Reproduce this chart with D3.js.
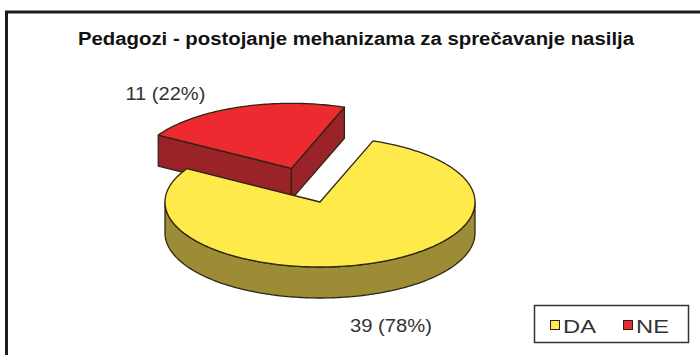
<!DOCTYPE html>
<html>
<head>
<meta charset="utf-8">
<script src="https://cdn.jsdelivr.net/npm/d3@7/dist/d3.min.js"></script>
<style>
  html, body { margin: 0; padding: 0; background: #fff; }
  svg { display: block; font-family: Arial, "Liberation Sans", sans-serif; }
</style>
</head>
<body>
<svg id="chart" width="700" height="355"></svg>
<script>
// Data
const title = "Pedagozi - postojanje mehanizama za sprečavanje nasilja";
const categories = ["DA", "NE"];
const values = [39, 11];

const total = d3.sum(values);
const labels = values.map(v => `${v} (${Math.round(v / total * 100)}%)`);

// Styling
const topColor = d3.scaleOrdinal().domain(categories).range(["#ffea4c", "#ec2a2f"]);
const sideColor = d3.scaleOrdinal().domain(categories).range(["#9d8c36", "#992328"]);
const outline = "#2e2612";

const W = 700, H = 355;
const svg = d3.select("#chart");

// Outer frame (runs off the right and bottom edges)
svg.append("rect")
  .attr("x", 6.5).attr("y", 12).attr("width", W + 20).attr("height", H + 20)
  .attr("fill", "#fff").attr("stroke", "#1c1c1c").attr("stroke-width", 3);

svg.append("text")
  .attr("x", 78).attr("y", 45)
  .attr("textLength", 556).attr("lengthAdjust", "spacingAndGlyphs")
  .style("font-size", "17.5px").style("font-weight", "bold").attr("fill", "#111")
  .text(title);

// 3D pie geometry
const cx = 320, cy = 202, rx = 155, ry = 65, depth = 31;
const explode = [0, 0.55];
const deg = Math.PI / 180;

const pie = d3.pie().sort(null).value(d => d)
  .startAngle(20 * deg).endAngle(380 * deg);
const arcs = pie(values);

function pt(a, r, ox, oy, dz) {
  return [ox + rx * r * Math.sin(a), oy - ry * r * Math.cos(a) + dz];
}
const line = d3.line();

function rimPoints(a0, a1, ox, oy, dz) {
  const n = Math.max(2, Math.ceil((a1 - a0) / (1 * deg)));
  return d3.range(n + 1).map(i => pt(a0 + (a1 - a0) * i / n, 1, ox, oy, dz));
}

function drawSlice(g, d, i) {
  const key = categories[i];
  const mid = (d.startAngle + d.endAngle) / 2;
  const ox = cx + rx * explode[i] * Math.sin(mid);
  const oy = cy - ry * explode[i] * Math.cos(mid);
  const a0 = d.startAngle, a1 = d.endAngle;

  // Cut walls facing the viewer
  [[a0, a0 - Math.PI / 2], [a1, a1 + Math.PI / 2]].forEach(([a, normal]) => {
    if (Math.cos(normal) < 0) {
      const poly = [pt(a, 0, ox, oy, 0), pt(a, 1, ox, oy, 0), pt(a, 1, ox, oy, depth), pt(a, 0, ox, oy, depth)];
      g.append("path").attr("d", line(poly) + "Z")
        .attr("fill", sideColor(key)).attr("stroke", outline).attr("stroke-width", 1.3)
        .attr("stroke-linejoin", "round");
    }
  });

  // Outer rim on the front half
  const lo = Math.max(a0, 90 * deg), hi = Math.min(a1, 270 * deg);
  if (hi > lo) {
    const topPts = rimPoints(lo, hi, ox, oy, 0);
    const botPts = rimPoints(lo, hi, ox, oy, depth).reverse();
    g.append("path").attr("d", line(topPts.concat(botPts)) + "Z")
      .attr("fill", sideColor(key)).attr("stroke", outline).attr("stroke-width", 1.3)
      .attr("stroke-linejoin", "round");
  }

  // Top face
  const topPoly = [pt(a0, 0, ox, oy, 0)].concat(rimPoints(a0, a1, ox, oy, 0));
  g.append("path").attr("d", line(topPoly) + "Z")
    .attr("fill", topColor(key)).attr("stroke", outline).attr("stroke-width", 1.3)
    .attr("stroke-linejoin", "round");
}

const pieG = svg.append("g");
// back slice first, front slice last
[1, 0].forEach(i => drawSlice(pieG.append("g"), arcs[i], i));

// Value labels, anchored to each slice's rim at its mid-angle
const labelNudge = [[19, 38], [-74, -7]];
const labelWidth = [82, 80];
arcs.forEach((d, i) => {
  const mid = (d.startAngle + d.endAngle) / 2;
  const ox = cx + rx * explode[i] * Math.sin(mid);
  const oy = cy - ry * explode[i] * Math.cos(mid);
  const front = Math.cos(mid) < 0;
  const p = pt(mid, 1, ox, oy, front ? depth : 0);
  const lx = p[0] + labelNudge[i][0], ly = p[1] + labelNudge[i][1];
  svg.append("text")
    .attr("x", lx - labelWidth[i] / 2).attr("y", ly)
    .attr("textLength", labelWidth[i]).attr("lengthAdjust", "spacingAndGlyphs")
    .style("font-size", "18px").attr("fill", "#333")
    .text(labels[i]);
});

// Legend
const legend = svg.append("g");
legend.append("rect")
  .attr("x", 534.5).attr("y", 305.5).attr("width", 154).attr("height", 37)
  .attr("fill", "#fff").attr("stroke", "#333").attr("stroke-width", 1.5);
const legendX = d3.scalePoint().domain(categories).range([550, 623]);
categories.forEach(c => {
  legend.append("rect")
    .attr("x", legendX(c) + 0.5).attr("y", 320.5).attr("width", 9).attr("height", 9)
    .attr("fill", topColor(c)).attr("stroke", "#222").attr("stroke-width", 1);
  legend.append("text")
    .attr("x", legendX(c) + 13).attr("y", 332.5)
    .attr("textLength", 33).attr("lengthAdjust", "spacingAndGlyphs")
    .style("font-size", "18px").attr("fill", "#333")
    .text(c);
});
</script>
</body>
</html>
